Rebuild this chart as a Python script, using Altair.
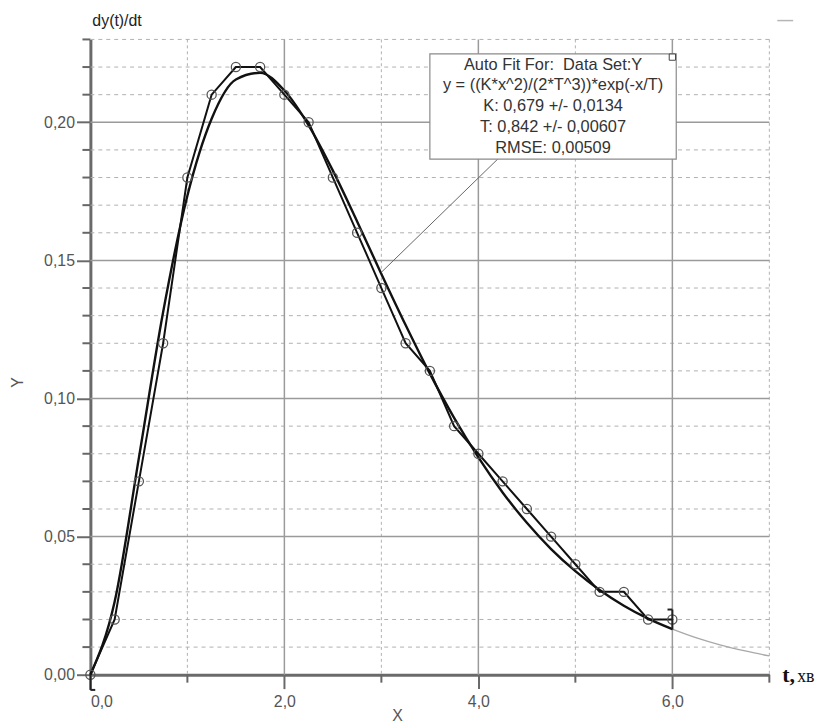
import altair as alt
import pandas as pd

t_data = [0.0, 0.25, 0.5, 0.75, 1.0, 1.25, 1.5, 1.75, 2.0, 2.25, 2.5, 2.75, 3.0,
          3.25, 3.5, 3.75, 4.0, 4.25, 4.5, 4.75, 5.0, 5.25, 5.5, 5.75, 6.0]
y_data = [0.0, 0.02, 0.07, 0.12, 0.18, 0.21, 0.22, 0.22, 0.21, 0.20, 0.18, 0.16, 0.14,
          0.12, 0.11, 0.09, 0.08, 0.07, 0.06, 0.05, 0.04, 0.03, 0.03, 0.02, 0.02]

# fitted curve (black, inside fit range)
t_fit = [0.0, 0.25, 0.5, 0.75, 1.0, 1.25, 1.5, 1.75, 2.0, 2.25, 2.5, 2.75, 3.0,
         3.25, 3.5, 3.75, 4.0, 4.25, 4.5, 4.75, 5.0, 5.25, 5.5, 5.75, 6.0]
y_fit = [0.0, 0.0264, 0.0785, 0.1313, 0.1734, 0.2013, 0.2155, 0.2179, 0.2115, 0.1989,
         0.1825, 0.1641, 0.1451, 0.1266, 0.1090, 0.0930, 0.0787, 0.0660, 0.0550, 0.0455,
         0.0375, 0.0307, 0.0250, 0.0203, 0.0165]
# fitted curve continuation (grey, outside fit range)
t_ext = [6.0, 6.25, 6.5, 6.75, 7.0]
y_ext = [0.0165, 0.0133, 0.0107, 0.0086, 0.0068]

# axis ticks
x_major = [0, 2, 4, 6]
x_minor = [1, 3, 5, 7]
y_major = [0.0, 0.05, 0.10, 0.15, 0.20]
y_major_grid = [0.05, 0.10, 0.15, 0.20]
y_minor = [0.01, 0.02, 0.03, 0.04, 0.06, 0.07, 0.08, 0.09, 0.11, 0.12, 0.13, 0.14,
           0.16, 0.17, 0.18, 0.19, 0.21, 0.22, 0.23]

fit_text = ["Auto Fit For:\u00a0 Data Set:Y",
            "y = ((K*x^2)/(2*T^3))*exp(-x/T)",
            "K: 0,679 +/- 0,0134",
            "T: 0,842 +/- 0,00607",
            "RMSE: 0,00509"]

# ---- scales & axes ----
FONT = "Liberation Sans"
W, H = 684, 640
xs = alt.Scale(domain=[0, 7], nice=False, zero=False)
ys = alt.Scale(domain=[0, 0.23], nice=False, zero=False)
xa = alt.Axis(values=x_major, tickSize=14, labelPadding=5,
              labelExpr="replace(format(datum.value, '.1f'), '.', ',')",
              title="X", titleX=309, titleY=41, titleAlign="center", titleBaseline="middle")
ya = alt.Axis(values=y_major, tickSize=14, labelPadding=2,
              labelExpr="replace(format(datum.value, '.2f'), '.', ',')",
              title="Y", titleX=-73, titleY=345, titleAngle=270,
              titleAlign="center", titleBaseline="middle")


def X(f):
    return alt.X(f, type="quantitative", scale=xs, axis=xa)


def Y(f):
    return alt.Y(f, type="quantitative", scale=ys, axis=ya)


df_data = pd.DataFrame({"t": t_data, "y": y_data})
df_fit = pd.DataFrame({"t": t_fit, "y": y_fit})
df_ext = pd.DataFrame({"t": t_ext, "y": y_ext})

layers = []
# grid
layers.append(alt.Chart(pd.DataFrame({"v": y_minor})).mark_rule(
    color="#b0b0b0", strokeDash=[4, 4], strokeWidth=1).encode(y=Y("v")))
layers.append(alt.Chart(pd.DataFrame({"v": x_minor})).mark_rule(
    color="#b0b0b0", strokeDash=[3, 3], strokeWidth=1).encode(x=X("v")))
layers.append(alt.Chart(pd.DataFrame({"v": y_major_grid})).mark_rule(
    color="#9a9a9a", strokeWidth=1.5).encode(y=Y("v")))
layers.append(alt.Chart(pd.DataFrame({"v": x_major[1:]})).mark_rule(
    color="#9a9a9a", strokeWidth=1.5).encode(x=X("v")))
# minor ticks
layers.append(alt.Chart(pd.DataFrame({"v": y_minor})).mark_rule(
    color="#666", strokeWidth=2).encode(y=Y("v"), x=alt.value(-8), x2=alt.value(0)))
layers.append(alt.Chart(pd.DataFrame({"v": x_minor})).mark_rule(
    color="#666", strokeWidth=2).encode(x=X("v"), y=alt.value(H), y2=alt.value(H + 8)))

# fitted curve
layers.append(alt.Chart(df_ext).mark_line(
    color="#a8a8a8", strokeWidth=1.3, interpolate="monotone").encode(x=X("t"), y=Y("y")))
layers.append(alt.Chart(df_fit).mark_line(
    color="#111", strokeWidth=2.4, interpolate="monotone").encode(x=X("t"), y=Y("y")))
# data line + points
layers.append(alt.Chart(df_data).mark_line(
    color="#111", strokeWidth=2).encode(x=X("t"), y=Y("y")))
layers.append(alt.Chart(df_data).mark_point(
    shape="circle", filled=False, size=85, color="#555", strokeWidth=1.3, opacity=1
).encode(x=X("t"), y=Y("y")))

# fit-range brackets
br = pd.DataFrame({"x1": [0.0, 0.0, 6.0, 5.95],
                   "x2": [0.0, 0.05, 6.0, 6.0],
                   "y1": [0.0, -0.0055, 0.0163, 0.0236],
                   "y2": [-0.0055, -0.0055, 0.0236, 0.0236]})
layers.append(alt.Chart(br).mark_rule(color="#222", strokeWidth=2).encode(
    x=X("x1"), x2="x2", y=Y("y1"), y2="y2"))

# leader line from curve to annotation box
ld = pd.DataFrame({"x1": [3.0], "y1": [0.1457], "x2": [4.2], "y2": [0.1867]})
layers.append(alt.Chart(ld).mark_rule(color="#666", strokeWidth=1).encode(
    x=X("x1"), x2="x2", y=Y("y1"), y2="y2"))

# annotation box
bx = pd.DataFrame({"x1": [3.50], "x2": [6.04], "y1": [0.1867], "y2": [0.2248]})
layers.append(alt.Chart(bx).mark_rect(fill="white", stroke="#8a8a8a", strokeWidth=1.2).encode(
    x=X("x1"), x2="x2", y=Y("y1"), y2="y2"))
tx = pd.DataFrame({"x": [4.77], "y": [0.2209], "txt": ["\n".join(fit_text)]})
layers.append(alt.Chart(tx).mark_text(
    font=FONT, fontSize=16.5, color="#333", lineBreak="\n", lineHeight=21,
    align="center", baseline="middle").encode(x=X("x"), y=Y("y"), text="txt:N"))
sq = pd.DataFrame({"x": [6.0], "y": [0.2236]})
layers.append(alt.Chart(sq).mark_point(
    shape="square", filled=True, fill="white", stroke="#444", strokeWidth=1,
    size=40, opacity=1).encode(x=X("x"), y=Y("y")))

# outer labels
lab = pd.DataFrame({"txt": ["dy(t)/dt"]})
layers.append(alt.Chart(lab).mark_text(
    font=FONT, fontSize=16, color="#222", align="left", baseline="middle").encode(
    x=alt.value(2), y=alt.value(-19), text="txt:N"))
lab2 = pd.DataFrame({"txt": ["t,"]})
layers.append(alt.Chart(lab2).mark_text(
    font="Liberation Serif", fontSize=22, fontWeight="bold", color="#111",
    align="left", baseline="alphabetic").encode(x=alt.value(697), y=alt.value(H + 7), text="txt:N"))
lab3 = pd.DataFrame({"txt": ["хв"]})
layers.append(alt.Chart(lab3).mark_text(
    font="Liberation Serif", fontSize=18, color="#111",
    align="left", baseline="alphabetic").encode(x=alt.value(712), y=alt.value(H + 7), text="txt:N"))
# small grey mark at top right
layers.append(alt.Chart(lab).mark_rule(color="#b5b5b5", strokeWidth=1.5).encode(
    x=alt.value(692), x2=alt.value(708), y=alt.value(-19)))

chart = alt.layer(*layers).properties(
    width=W, height=H,
    autosize=alt.AutoSizeParams(type="none"),
    padding={"left": 83, "top": 29, "right": 48, "bottom": 50},
).configure_view(stroke=None).configure_axis(
    grid=False, domainColor="#6a6a6a", domainWidth=3, tickColor="#6a6a6a", tickWidth=2,
    labelFont=FONT, labelFontSize=16, labelColor="#555",
    titleFont=FONT, titleFontSize=16, titleColor="#555", titleFontWeight="normal",
)

chart.save("out.html", embed_options={"renderer": "svg", "actions": False})
